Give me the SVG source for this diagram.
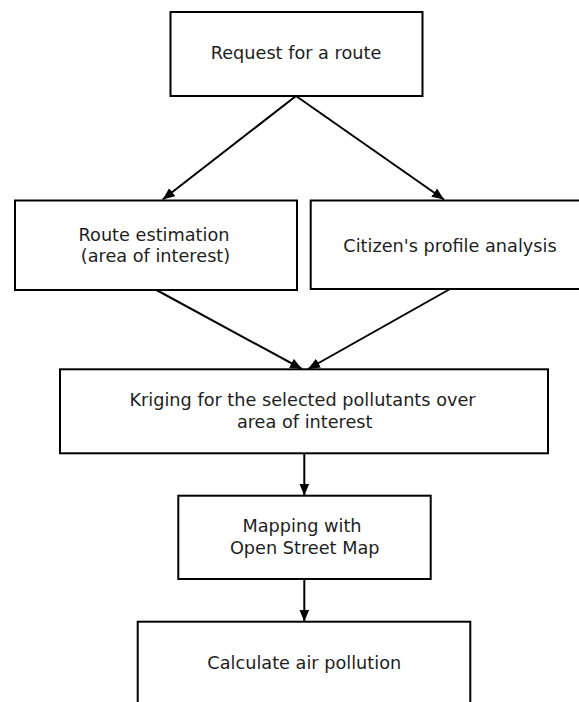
<svg xmlns="http://www.w3.org/2000/svg" width="579" height="702" viewBox="0 0 579 702">
<defs>
<style>
.box{fill:#fff;stroke:#000;stroke-width:2}
.t{font-family:"DejaVu Sans",sans-serif;font-size:17.7px;fill:#1e1e1e;text-anchor:middle}
.c{stroke:#000;stroke-width:2;fill:none;marker-end:url(#ah)}
</style>
<marker id="ah" markerUnits="userSpaceOnUse" markerWidth="13" markerHeight="11" refX="12" refY="5" orient="auto">
<path d="M0,0 L12,5 L0,10 z" fill="#000"/>
</marker>
</defs>
<rect width="579" height="702" fill="#fff"/>
<g id="n-request">
<rect class="box" x="170.5" y="12" width="252" height="84"/>
<text class="t" x="296" y="59">Request for a route</text>
</g>
<g id="n-route">
<rect class="box" x="15" y="200.5" width="282" height="89.5"/>
<text class="t" x="154" y="240.7">Route estimation</text>
<text class="t" x="155.5" y="262">(area of interest)</text>
</g>
<g id="n-citizen">
<rect class="box" x="310.7" y="200.5" width="280" height="88.5"/>
<text class="t" x="450" y="251.5">Citizen's profile analysis</text>
</g>
<g id="n-kriging">
<rect class="box" x="60" y="369.3" width="488" height="84"/>
<text class="t" x="302.5" y="406">Kriging for the selected pollutants over</text>
<text class="t" x="304.7" y="427.7">area of interest</text>
</g>
<g id="n-mapping">
<rect class="box" x="178.3" y="495.7" width="252.4" height="83.3"/>
<text class="t" x="302" y="531.7">Mapping with</text>
<text class="t" x="304.7" y="553.5">Open Street Map</text>
</g>
<g id="n-calc">
<rect class="box" x="137.7" y="621.7" width="332.6" height="100"/>
<text class="t" x="304.3" y="669">Calculate air pollution</text>
</g>
<g id="connectors">
<line class="c" x1="296" y1="96" x2="162.7" y2="199.5"/>
<line class="c" x1="296" y1="96" x2="444" y2="199.5"/>
<line class="c" x1="156.5" y1="290" x2="302" y2="369"/>
<line class="c" x1="450" y1="289" x2="308" y2="369"/>
<line class="c" x1="304.3" y1="453.3" x2="304.3" y2="495.5"/>
<line class="c" x1="304.3" y1="579" x2="304.3" y2="621.5"/>
</g>
</svg>
